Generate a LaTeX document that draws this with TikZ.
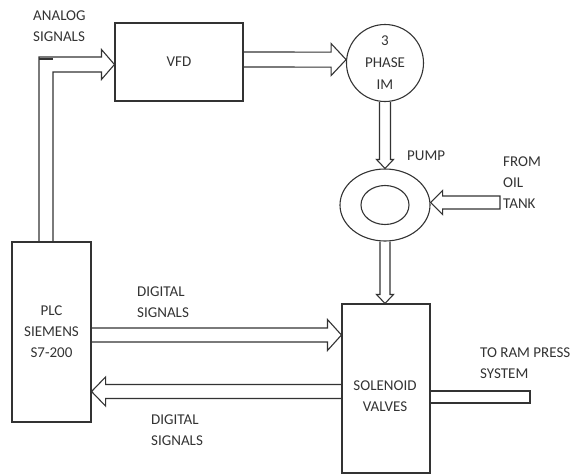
\documentclass[tikz,border=0pt]{standalone}
\usepackage{fontspec}
\setmainfont{Carlito}
\usetikzlibrary{calc,shapes.geometric}
\definecolor{ink}{HTML}{333333}
% hollow fat arrow from #1 to #2: half shaft width #3, half head width #4, head length #5
\newcommand{\fatarrow}[5]{%
  \coordinate (hb) at ($(#2)!#5!(#1)$);
  \draw[pipe] ($(#1)!#3!90:(#2)$) -- ($(hb)!#3!90:(#2)$) -- ($(hb)!#4!90:(#2)$) -- (#2)
    -- ($(hb)!#4!-90:(#2)$) -- ($(hb)!#3!-90:(#2)$) -- ($(#1)!#3!-90:(#2)$);}
\newcommand{\fatarrowclosed}[5]{%
  \coordinate (hb) at ($(#2)!#5!(#1)$);
  \draw[pipe] ($(#1)!#3!90:(#2)$) -- ($(hb)!#3!90:(#2)$) -- ($(hb)!#4!90:(#2)$) -- (#2)
    -- ($(hb)!#4!-90:(#2)$) -- ($(hb)!#3!-90:(#2)$) -- ($(#1)!#3!-90:(#2)$) -- cycle;}
\begin{document}
\begin{tikzpicture}[x=1pt,y=1pt,
  every node/.style={text=ink, font=\fontsize{15}{21}\selectfont},
  box/.style={draw=ink, line width=1.1pt, rectangle, inner sep=0pt, align=center},
  pipe/.style={draw=ink, line width=1.1pt, line join=miter},
  lbl/.style={align=left, inner sep=0pt, anchor=west},
  ]
\useasboundingbox (0,0) rectangle (573,-474);
% blocks
\node[box, minimum width=128, minimum height=78] (vfd) at (179,-62) {VFD};
\node[draw=ink, line width=1.1pt, circle, minimum size=77, inner sep=0pt, align=center] (im) at (385,-63) {3\\[1pt]PHASE\\[1pt]IM};
\node[draw=ink, line width=1.1pt, ellipse, minimum width=90, minimum height=72, inner sep=0pt] (pump) at (385,-205) {};
\node[draw=ink, line width=1.1pt, ellipse, minimum width=48, minimum height=39, inner sep=0pt] (core) at (pump.center) {};
\node[box, minimum width=79, minimum height=180] (plc) at (51.5,-332) {PLC\\SIEMENS\\S7-200};
\node[box, minimum width=88, minimum height=169] (sol) at (386,-388.5) {};
\node[align=center, inner sep=0pt] (soltxt) at (385,-396.5) {SOLENOID\\VALVES};
% labels
\node[lbl] (analog) at (33,-26) {ANALOG\\SIGNALS};
\node[lbl] (pumplbl) at (407,-156) {PUMP};
\node[lbl] (oil) at (503,-183) {FROM\\OIL\\TANK};
\node[lbl] (dig1) at (137,-302.5) {DIGITAL\\SIGNALS};
\node[lbl] (dig2) at (151,-430.5) {DIGITAL\\SIGNALS};
\node[lbl] (ram) at (480,-363.5) {TO RAM PRESS\\SYSTEM};
% analog signals elbow from PLC to VFD
\coordinate (corner) at (46,-64.5);
\coordinate (ain) at (corner |- plc.north);
\coordinate (aout) at (corner -| vfd.west);
\draw[pipe] ($(ain)+(-7,0)$) -- ($(corner)+(-7,7.5)$) -- ($(aout)+(-13,7.5)$) -- ($(aout)+(-13,15)$)
  -- (aout) -- ($(aout)+(-13,-15)$) -- ($(aout)+(-13,-7.5)$) -- ($(corner)+(7,-7.5)$) -- ($(ain)+(7,0)$);
\draw[pipe] ($(corner)+(-7,5.5)$) -- ($(corner)+(7,5.5)$);
% VFD -> motor
\coordinate (v1) at ($(vfd.east)+(0,2.5)$);
\coordinate (v2) at (im.175);
\fatarrow{v1}{v2}{7.5pt}{16pt}{15pt}
% motor -> pump
\fatarrow{im.south}{pump.north}{5.5pt}{8.5pt}{9pt}
% pump -> solenoid valves
\coordinate (s1) at (pump.south |- sol.north);
\fatarrow{pump.south}{s1}{5pt}{8.5pt}{9pt}
% oil tank -> pump
\coordinate (oildst) at ($(pump.east)+(0,2.5)$);
\coordinate (oilsrc) at (500,-202.5);
\fatarrowclosed{oilsrc}{oildst}{6.5pt}{12pt}{12pt}
% PLC -> solenoid
\coordinate (d1) at ($(plc.east)+(0,-3)$);
\coordinate (d2) at (d1 -| sol.west);
\fatarrow{d1}{d2}{7pt}{15.5pt}{14pt}
% solenoid -> PLC
\coordinate (e1) at ($(sol.west)+(0,-3)$);
\coordinate (e2) at (e1 -| plc.east);
\fatarrow{e1}{e2}{7pt}{14.5pt}{14pt}
% to ram press
\coordinate (r1) at ($(sol.east)+(0,-8.5)$);
\coordinate (ramend) at (530,-397);
\draw[pipe] ($(r1)+(0,6)$) rectangle ($(ramend)+(0,-6)$);
\end{tikzpicture}
\end{document}
